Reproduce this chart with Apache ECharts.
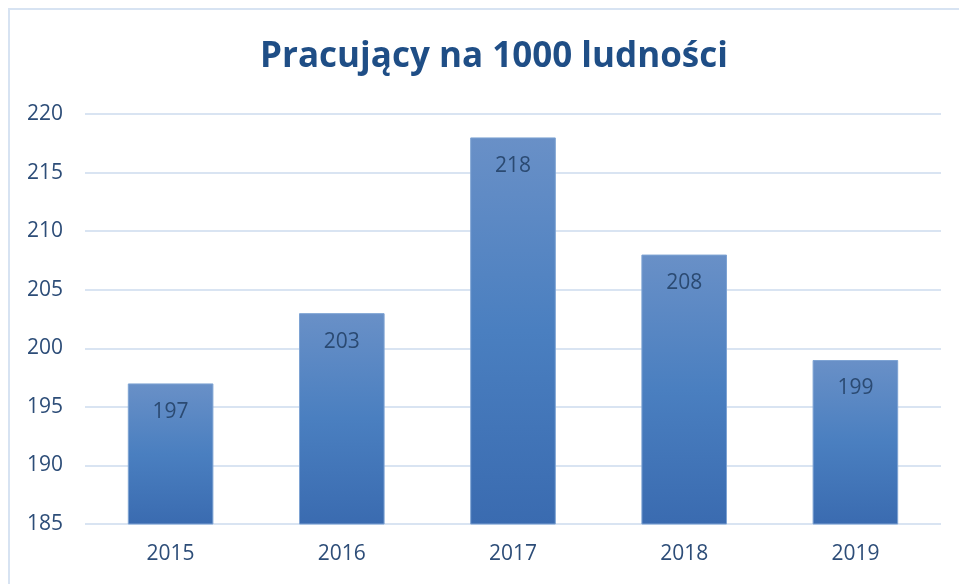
<!DOCTYPE html>
<html>
<head>
<meta charset="utf-8">
<script src="https://cdn.jsdelivr.net/npm/echarts@6/dist/echarts.min.js"></script>
<style>
html,body{margin:0;padding:0;background:#fff;}
#frame{position:absolute;left:8px;top:8px;width:959px;height:584px;border-left:2px solid #d7e3f2;border-top:2px solid #d7e3f2;box-sizing:border-box;}
#chart{width:959px;height:584px;}
</style>
</head>
<body>
<div id="frame"></div>
<div id="chart"></div>
<script>
const years = ['2015', '2016', '2017', '2018', '2019'];
const workers = [197, 203, 218, 208, 199];
const yTicks = [185, 190, 195, 200, 205, 210, 215, 220];

const textColor = '#2d4d78';
let myChart = echarts.init(document.getElementById('chart'));
let option = {
  animation: false,
  title: {
    text: 'Pracujący na 1000 ludności',
    left: 489,
    top: 35,
    textAlign: 'center',
    textStyle: {
      fontFamily: 'Open Sans',
      fontWeight: 'bold',
      fontSize: 35,
      color: '#1f4e86'
    }
  },
  grid: {
    left: 85,
    right: 18,
    top: 114,
    bottom: 60
  },
  xAxis: {
    type: 'category',
    data: years,
    axisLine: {show: false},
    axisTick: {show: false},
    axisLabel: {
      margin: 20,
      fontFamily: 'Open Sans',
      fontSize: 21,
      color: textColor
    }
  },
  yAxis: {
    type: 'value',
    min: yTicks[0],
    max: yTicks[yTicks.length - 1],
    interval: 5,
    axisLine: {show: false},
    axisTick: {show: false},
    axisLabel: {
      margin: 22,
      fontFamily: 'Open Sans',
      fontSize: 21,
      color: textColor
    },
    splitLine: {
      lineStyle: {color: '#d9e4f2', width: 2}
    }
  },
  series: [{
    type: 'bar',
    data: workers,
    barWidth: '50%',
    itemStyle: {
      color: new echarts.graphic.LinearGradient(0, 0, 0, 1, [
        {offset: 0, color: '#6990c7'},
        {offset: 0.5, color: '#4a7fc0'},
        {offset: 1, color: '#3a6bb0'}
      ]),
      borderColor: '#7ea3d3',
      borderWidth: 1
    },
    label: {
      show: true,
      position: 'insideTop',
      distance: 18,
      fontFamily: 'Open Sans',
      fontSize: 21,
      color: '#2b4a72'
    }
  }]
};
myChart.setOption(option);
</script>
</body>
</html>
